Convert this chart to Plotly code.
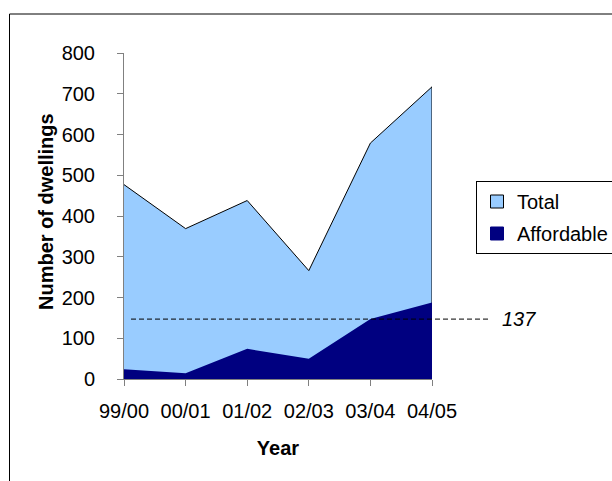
import plotly.graph_objects as go

years = ["99/00", "00/01", "01/02", "02/03", "03/04", "04/05"]
total = [477, 369, 438, 266, 579, 717]
affordable = [24, 14, 74, 50, 147, 188]
target_value = 147
target_label = "137"

FONT = "Arial, Liberation Sans, sans-serif"
L, R, T, B = 124, 180, 53, 102
W, H = 612, 481
pw, ph = W - L - R, H - T - B


def px_x(p):
    return (p - L) / pw


def px_y(p):
    return (H - B - p) / ph


# Total area outlined as a closed polygon (top line plus right edge)
total_x = years + [years[-1], years[0]]
total_y = total + [0, 0]

fig = go.Figure()
fig.add_trace(go.Scatter(x=total_x, y=total_y, mode="lines", fill="toself",
                         fillcolor="#99CCFF", line=dict(color="black", width=1),
                         showlegend=False, hoverinfo="skip"))
fig.add_trace(go.Scatter(x=years, y=affordable, mode="lines", fill="tozeroy",
                         fillcolor="#000080", line=dict(color="#000080", width=0),
                         showlegend=False, hoverinfo="skip"))
# legend entries
fig.add_trace(go.Scatter(x=[None], y=[None], mode="markers", name="Total",
                         legendgroup="a",
                         marker=dict(symbol="square", size=13, color="#99CCFF",
                                     line=dict(color="black", width=1))))
fig.add_trace(go.Scatter(x=[None], y=[None], mode="markers", name="Affordable",
                         legendgroup="b",
                         marker=dict(symbol="square", size=13, color="#000080",
                                     line=dict(color="#000080", width=1))))

# dashed reference line
fig.add_shape(type="line", xref="paper", yref="y",
              x0=px_x(131), x1=px_x(491), y0=target_value, y1=target_value,
              line=dict(color="black", width=1, dash="5px,3px"))
fig.add_annotation(xref="paper", yref="y", x=px_x(500), y=target_value,
                   text="<i>" + target_label + "</i>", showarrow=False,
                   xanchor="left", yanchor="middle",
                   font=dict(family=FONT, size=20, color="black"))
# y-axis title
fig.add_annotation(xref="paper", yref="paper", x=px_x(46), y=px_y(212),
                   text="<b>Number of dwellings</b>", showarrow=False,
                   textangle=-90, xanchor="center", yanchor="middle",
                   font=dict(family=FONT, size=20, color="black"))
# outer chart border
fig.add_shape(type="rect", xref="paper", yref="paper",
              x0=px_x(9.5), x1=px_x(660), y0=px_y(540), y1=px_y(14),
              line=dict(color="black", width=1), fillcolor="rgba(0,0,0,0)")

fig.update_layout(
    width=W, height=H,
    margin=dict(l=L, r=R, t=T, b=B, pad=0, autoexpand=False),
    paper_bgcolor="white", plot_bgcolor="white",
    font=dict(family=FONT, size=20, color="black"),
    showlegend=True,
    legend=dict(xref="container", yref="container",
                x=476 / W, y=1 - 181 / H, xanchor="left", yanchor="top",
                bordercolor="black", borderwidth=1, bgcolor="white",
                font=dict(family=FONT, size=20, color="black"),
                tracegroupgap=3),
    xaxis=dict(type="category", range=[0, 5], showgrid=False, zeroline=False,
               automargin=False,
               showline=True, linecolor="#808080", linewidth=1,
               ticks="outside", ticklen=6, tickcolor="#808080",
               ticklabelstandoff=8,
               tickfont=dict(family=FONT, size=20, color="black"),
               title=dict(text="<b>Year</b>", standoff=19,
                          font=dict(family=FONT, size=20, color="black"))),
    yaxis=dict(range=[0, 800], dtick=100, showgrid=False, zeroline=False,
               automargin=False,
               showline=True, linecolor="#808080", linewidth=1,
               ticks="outside", ticklen=6, tickcolor="#808080",
               ticklabelstandoff=18,
               tickfont=dict(family=FONT, size=20, color="black")),
)

fig.write_html("out.html", config={"displayModeBar": False},
               post_script="document.body.style.margin='0';")
